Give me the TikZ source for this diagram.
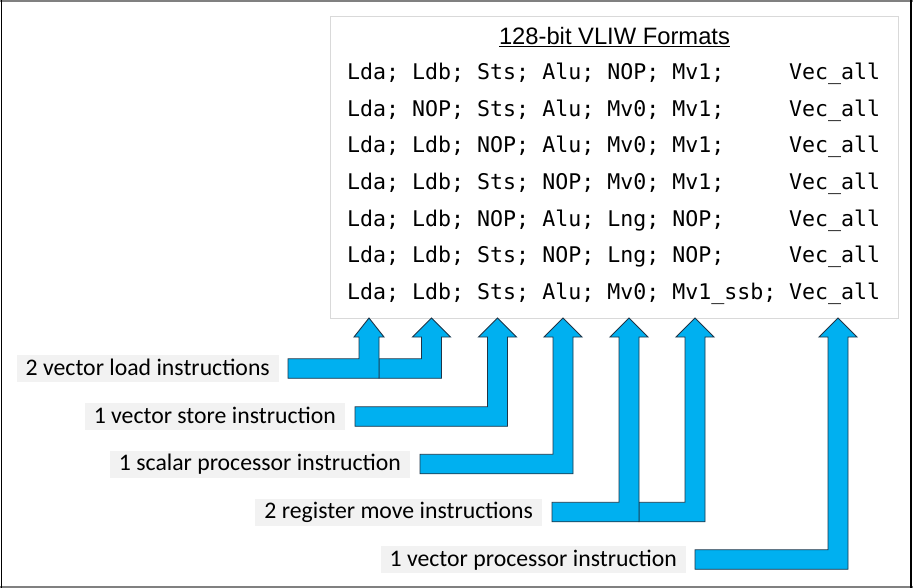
\documentclass[tikz,border=0pt]{standalone}
\usepackage{fontspec}
\setmainfont{Carlito}
\setmonofont{DejaVu Sans Mono}
\newfontfamily\arialfont{Liberation Sans}
\usepackage{xcolor}
\usepackage{tikz}
\usetikzlibrary{calc}

\definecolor{arrowblue}{HTML}{00B0F0}
\definecolor{arrowline}{HTML}{1F3447}
\definecolor{labelgray}{HTML}{F2F2F2}
\definecolor{boxgray}{HTML}{D9D9D9}

% bent block arrow: [head half width]{left end}{tip}
\newcommand{\bentarrow}[3][19pt]{%
  \draw[blockarrow] let \p1=#2, \p2=#3 in
    (\x1,\y1+9.75pt) -- (\x2-10pt,\y1+9.75pt) -- (\x2-10pt,\y2-19pt)
    -- (\x2-#1,\y2-19pt) -- (\x2,\y2) -- (\x2+#1,\y2-19pt)
    -- (\x2+10pt,\y2-19pt) -- (\x2+10pt,\y1-9.75pt) -- (\x1,\y1-9.75pt) -- cycle;}

\begin{document}
\begin{tikzpicture}[x=1pt, y=-1pt,
    code/.style={inner sep=0pt, anchor=base west, font=\ttfamily\fontsize{21.6}{26}\selectfont},
    lbl/.style={fill=labelgray, anchor=east, inner xsep=9pt, inner ysep=2pt,
      text height=18pt, text depth=5pt, font=\fontsize{23.75}{28}\selectfont},
    blockarrow/.style={fill=arrowblue, draw=arrowline, line width=0.9pt, line join=miter}]
  \useasboundingbox (0,0) rectangle (913,588);
  % outer frame
  \draw[line width=2pt, black!50] (0,1) -- (913,1);
  \draw[line width=2pt, black!50] (0,587) -- (913,587);
  \draw[line width=1.5pt] (1.5,0) -- (1.5,588);
  \draw[line width=1.5pt] (911,0) -- (911,588);

  % format table
  \node[draw=boxgray, line width=1pt, anchor=north west, minimum width=568pt,
    minimum height=302pt] (fmt) at (330,16) {};
  \node[inner sep=0pt, anchor=base, font=\arialfont\fontsize{23.75}{28}\selectfont]
    (title) at (614.5,44.5) {\underline{128-bit VLIW Formats}};
  \foreach \ops [count=\r] in {{Lda; Ldb; Sts; Alu; NOP; Mv1;},
      {Lda; NOP; Sts; Alu; Mv0; Mv1;}, {Lda; Ldb; NOP; Alu; Mv0; Mv1;},
      {Lda; Ldb; Sts; NOP; Mv0; Mv1;}, {Lda; Ldb; NOP; Alu; Lng; NOP;},
      {Lda; Ldb; Sts; NOP; Lng; NOP;}, {Lda; Ldb; Sts; Alu; Mv0; Mv1\_ssb;}} {
    \node[code] (row\r) at (347,43.5+36.5*\r) {\ops};
    \node[code] (vec\r) at (789,43.5+36.5*\r) {Vec\_all};
  }

  % arrow tips under the columns
  \coordinate (lda) at (369,318);
  \coordinate (ldb) at (431.5,318);
  \coordinate (sts) at (497.5,318);
  \coordinate (alu) at (563,318);
  \coordinate (mvz) at (629,318);
  \coordinate (mvo) at (695,318);
  \coordinate (vec) at (838,318);

  % labels
  \node[lbl] (lbl1) at (279,368.5) {2 vector load instructions};
  \node[lbl] (lbl2) at (345,416.5) {1 vector store instruction};
  \node[lbl] (lbl3) at (410,464) {1 scalar processor instruction};
  \node[lbl] (lbl4) at (542,512) {2 register move instructions};
  \node[lbl] (lbl5) at (686,559.5) {1 vector processor instruction};

  % arrows
  \bentarrow{($(lbl1.east -| lda)+(10,0)$)}{(ldb)}
  \bentarrow[15pt]{($(lbl1.east)+(9,0)$)}{(lda)}
  \bentarrow{($(lbl2.east)+(10,0)$)}{(sts)}
  \bentarrow{($(lbl3.east)+(10,0)$)}{(alu)}
  \bentarrow{($(lbl4.east -| mvz)+(10,0)$)}{(mvo)}
  \bentarrow{($(lbl4.east)+(10,0)$)}{(mvz)}
  \bentarrow{($(lbl5.east)+(9,0)$)}{(vec)}
\end{tikzpicture}
\end{document}
